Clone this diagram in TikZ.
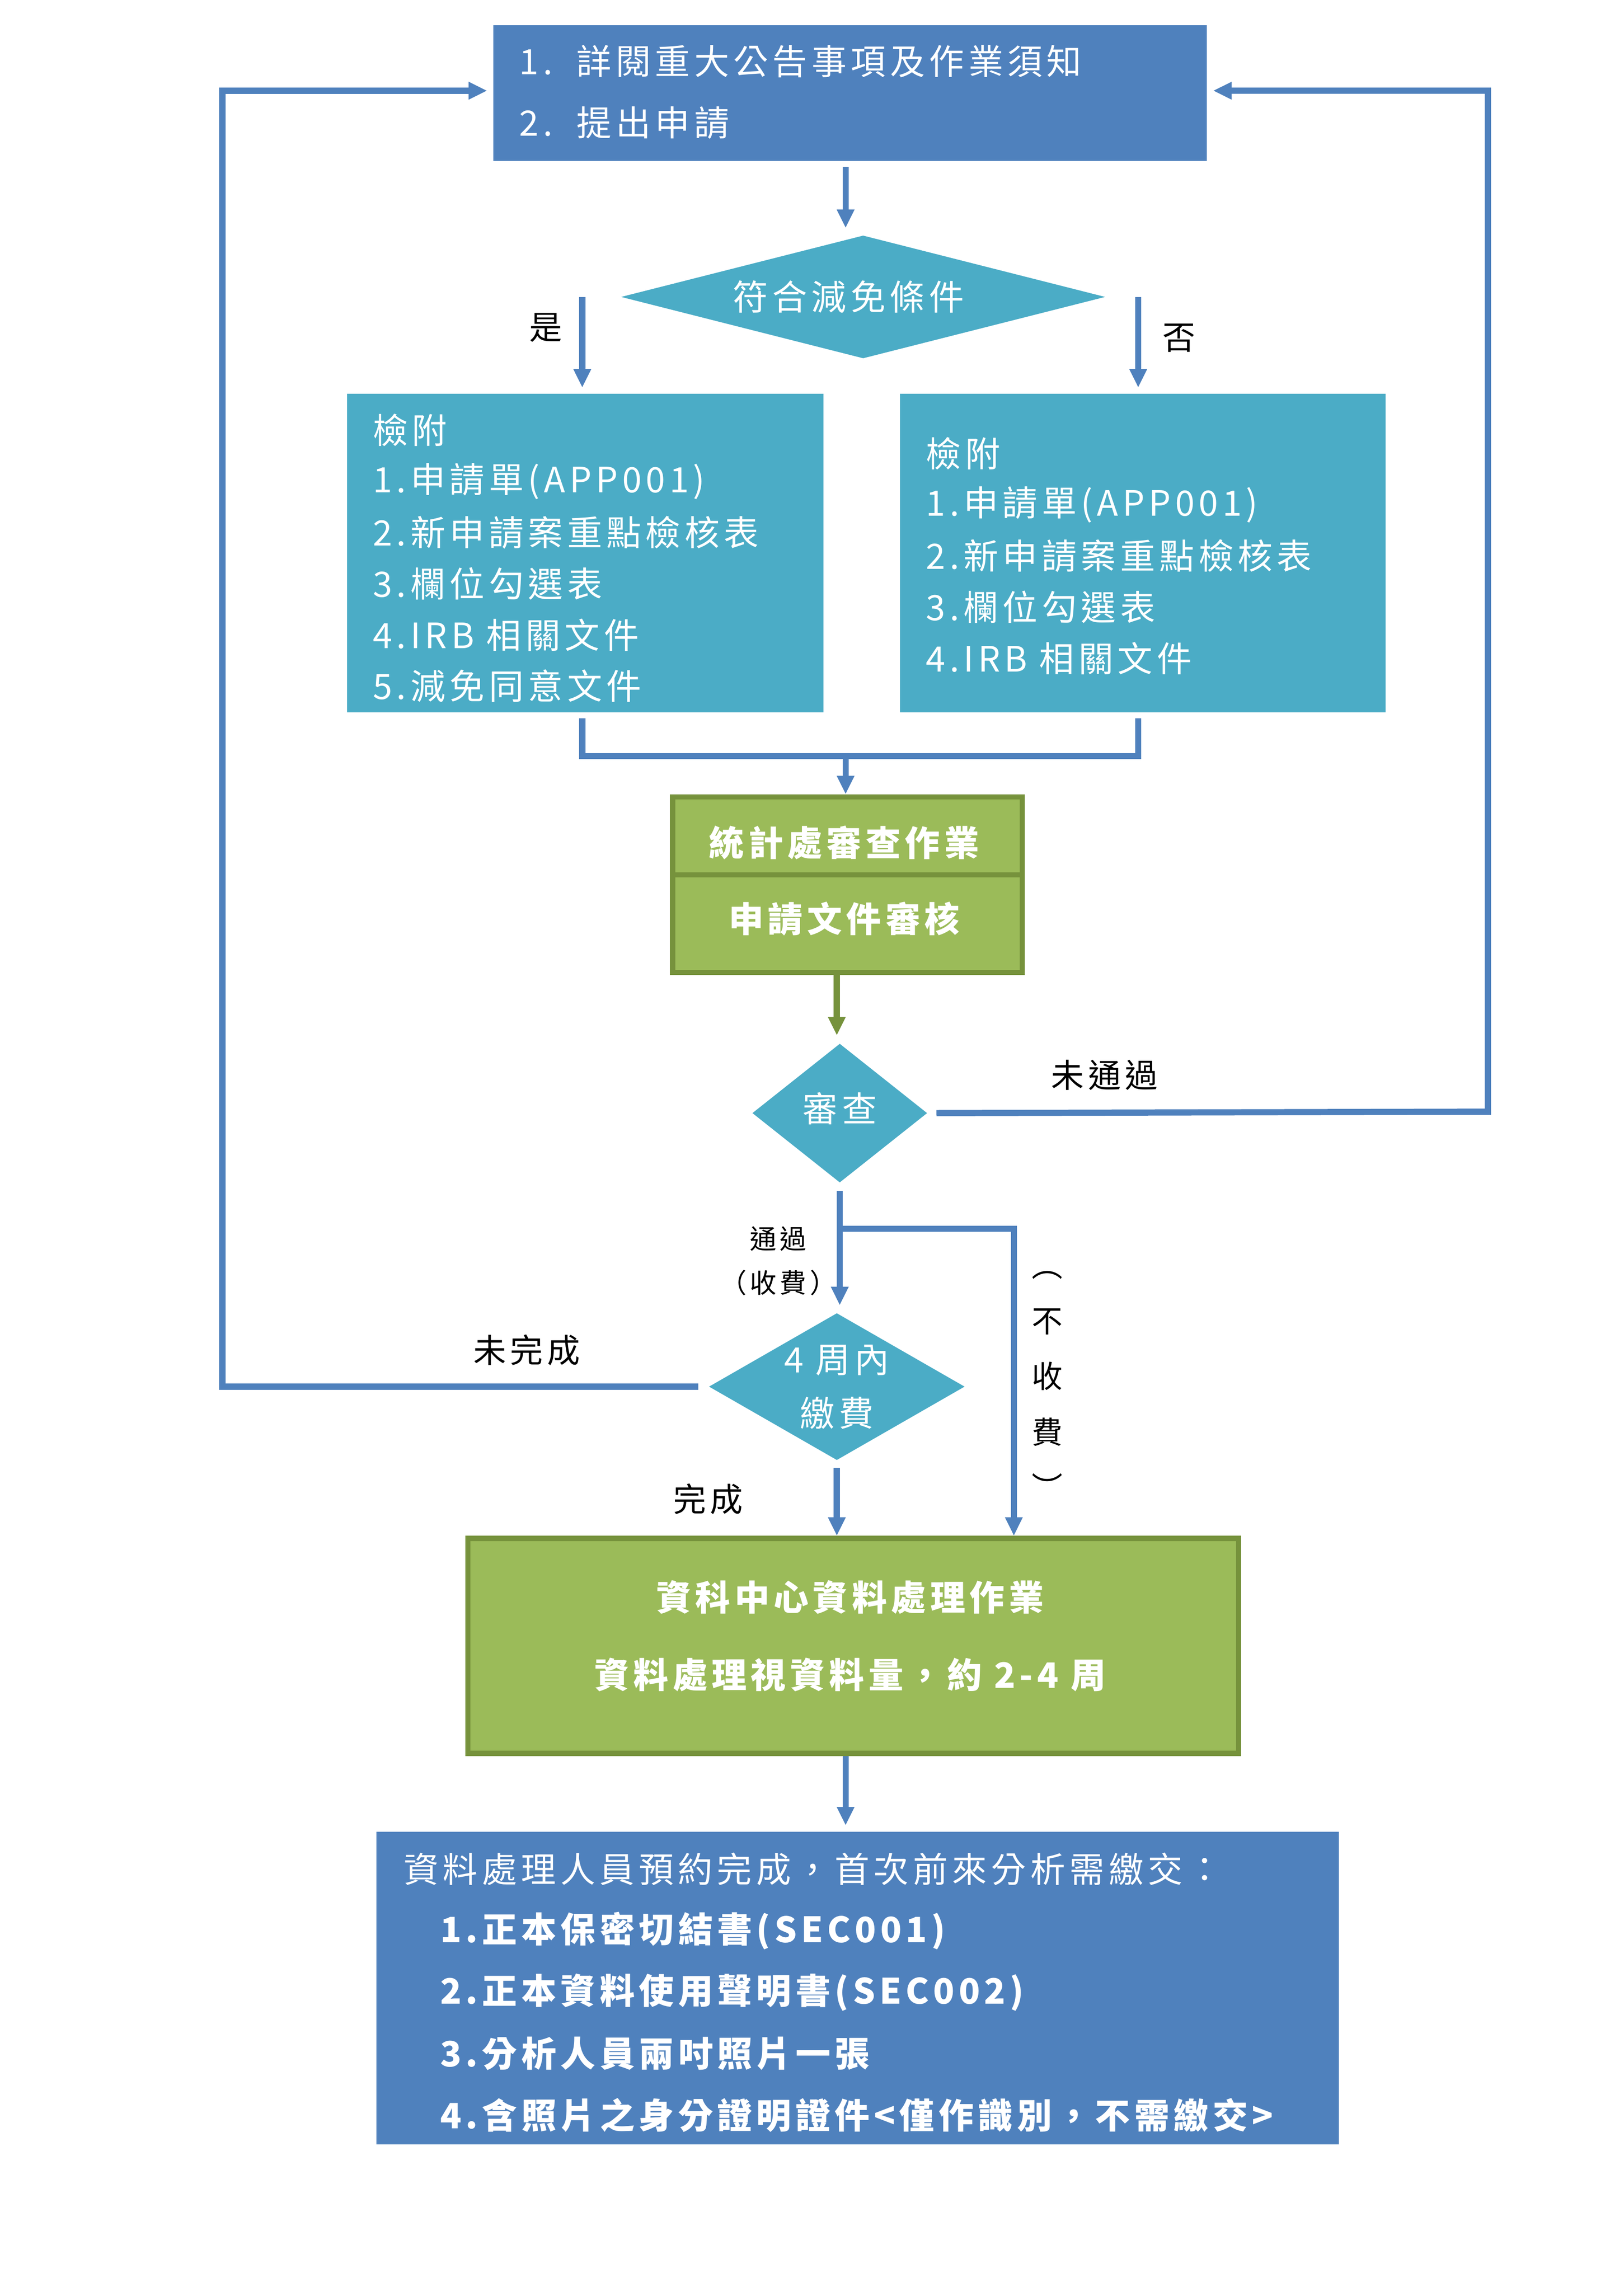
\documentclass[tikz,border=0pt]{standalone}
\usepackage{fontspec}
\setmainfont{Noto Sans CJK TC}[LetterSpace=12]
\usetikzlibrary{shapes.geometric,arrows.meta}
\definecolor{BoxBlue}{RGB}{79,129,189}
\definecolor{BoxTeal}{RGB}{75,172,198}
\definecolor{BoxGreen}{RGB}{155,187,89}
\definecolor{EdgeGreen}{RGB}{118,146,60}
\tikzset{
  box/.style={draw=white,line width=3pt,fill=#1,text=white,align=left,anchor=north west,inner sep=0pt},
  gbox/.style={draw=EdgeGreen,line width=2.5pt,fill=BoxGreen,text=white,inner sep=0pt,anchor=north west},
  dia/.style={diamond,draw=white,line width=3pt,fill=BoxTeal,text=white,inner sep=0pt,aspect=#1},
  flow/.style={draw=BoxBlue,line width=3pt,-{Triangle[length=9pt,width=8pt]}},
  line/.style={draw=BoxBlue,line width=3pt},
  lab/.style={font=\fontsize{16}{20}\selectfont},
  txt/.style={text=white,anchor=west,font=\fontsize{17}{20}\selectfont},
}
\begin{document}
\begin{tikzpicture}[x=0.025cm,y=-0.025cm]
\useasboundingbox (0,0) rectangle (1110,1567);
% boxes
\node[box=BoxBlue,minimum width=492*0.025cm,minimum height=97*0.025cm] (apply) at (333,13) {};
\node[txt] at (350,42) {1.\ \ 詳閱重大公告事項及作業須知};
\node[txt] at (350,84) {2.\ \ 提出申請};
\node[dia=3.9,minimum width=350*0.025cm,minimum height=90*0.025cm] (cond) at (590,203) {};
\node[txt,anchor=center] at (580,203) {符合減免條件};
\node[box=BoxTeal,minimum width=330*0.025cm,minimum height=222*0.025cm] (yesbox) at (233,265) {};
\node[box=BoxTeal,minimum width=336*0.025cm,minimum height=222*0.025cm] (nobox) at (611,265) {};
\foreach \t [count=\i] in {檢附,1.申請單(APP001),2.新申請案重點檢核表,3.欄位勾選表,4.IRB 相關文件,5.減免同意文件}
  \node[txt] at (250,259+35*\i) {\t};
\foreach \t [count=\i] in {檢附,1.申請單(APP001),2.新申請案重點檢核表,3.欄位勾選表,4.IRB 相關文件}
  \node[txt] at (628,275+35*\i) {\t};
\node[gbox,minimum width=239*0.025cm,minimum height=120*0.025cm] (stat) at (458,543) {};
\draw[EdgeGreen,line width=2.5pt] (458,598) -- (697,598);
\node[txt,anchor=center,font=\fontsize{17}{20}\bfseries] at (577,576) {統計處審查作業};
\node[txt,anchor=center,font=\fontsize{17}{20}\bfseries] at (577,628) {申請文件審核};
\node[dia=1.25,minimum width=128*0.025cm,minimum height=102*0.025cm] (review) at (574,761) {};
\node[txt,anchor=center] at (574,758) {審查};
\node[dia=1.75,minimum width=185*0.025cm,minimum height=107*0.025cm] (pay) at (572,948) {};
\node[txt,anchor=center] at (572,930) {4 周內};
\node[txt,anchor=center] at (572,966) {繳費};
\node[gbox,minimum width=527*0.025cm,minimum height=147*0.025cm] (proc) at (318,1050) {};
\node[txt,anchor=center,font=\fontsize{17}{20}\bfseries] at (581,1092) {資科中心資料處理作業};
\node[txt,anchor=center,font=\fontsize{17}{20}\bfseries] at (581,1145) {資料處理視資料量，約 2-4 周};
\node[box=BoxBlue,minimum width=662*0.025cm,minimum height=218*0.025cm] (final) at (253,1248) {};
\node[txt] at (271,1278) {資料處理人員預約完成，首次前來分析需繳交：};
\foreach \t [count=\i] in {1.正本保密切結書(SEC001),2.正本資料使用聲明書(SEC002),3.分析人員兩吋照片一張,4.含照片之身分證明證件<僅作識別，不需繳交>}
  \node[txt,font=\fontsize{17}{20}\bfseries] at (296,1278+42*\i) {\t};
% connectors
\coordinate (m1) at (398,517); \coordinate (m2) at (778,517); \coordinate (m0) at (578,517);
\draw[flow] (apply.south -| 578,0) -- (cond.north -| 578,0);
\draw[flow] (398,203) -- (yesbox.north -| 398,0);
\draw[flow] (778,203) -- (nobox.north -| 778,0);
\draw[line] (yesbox.south -| 398,0) -- (m1) -- (m2) -- (nobox.south -| 778,0);
\draw[flow] (m0) -- (stat.north -| 578,0);
\draw[draw=EdgeGreen,line width=3pt,-{Triangle[length=9pt,width=8pt]}] (stat.south -| 572,0) -- (review.north -| 572,0);
\coordinate (r1) at (1017,760); \coordinate (r2) at (1017,62);
\draw[flow] (review.east) -- (r1) -- (r2) -- (apply.east |- r2);
\coordinate (b1) at (574,840); \coordinate (b2) at (693,840);
\draw[flow] (review.south) -- (pay.north -| 574,0);
\draw[flow] (b1) -- (b2) -- (proc.north -| 693,0);
\coordinate (l1) at (152,948); \coordinate (l2) at (152,62);
\draw[flow] (pay.west) -- (l1) -- (l2) -- (apply.west |- l2);
\draw[flow] (pay.south) -- (proc.north -| 572,0);
\draw[flow] (proc.south -| 578,0) -- (final.north -| 578,0);
% labels
\node[lab] at (373,224) {是};
\node[lab] at (806,231) {否};
\node[lab] at (755,735) {未通過};
\node[lab,font=\fontsize{13}{16}\selectfont] at (532,847) {通過};
\node[lab,font=\fontsize{13}{16}\selectfont] at (532,877) {（收費）};
\node[lab,align=center,font=\fontsize{15}{27}\selectfont] at (716,947) {︵\\不\\收\\費\\︶};
\node[lab] at (360,923) {未完成};
\node[lab] at (484,1025) {完成};
\end{tikzpicture}
\end{document}
